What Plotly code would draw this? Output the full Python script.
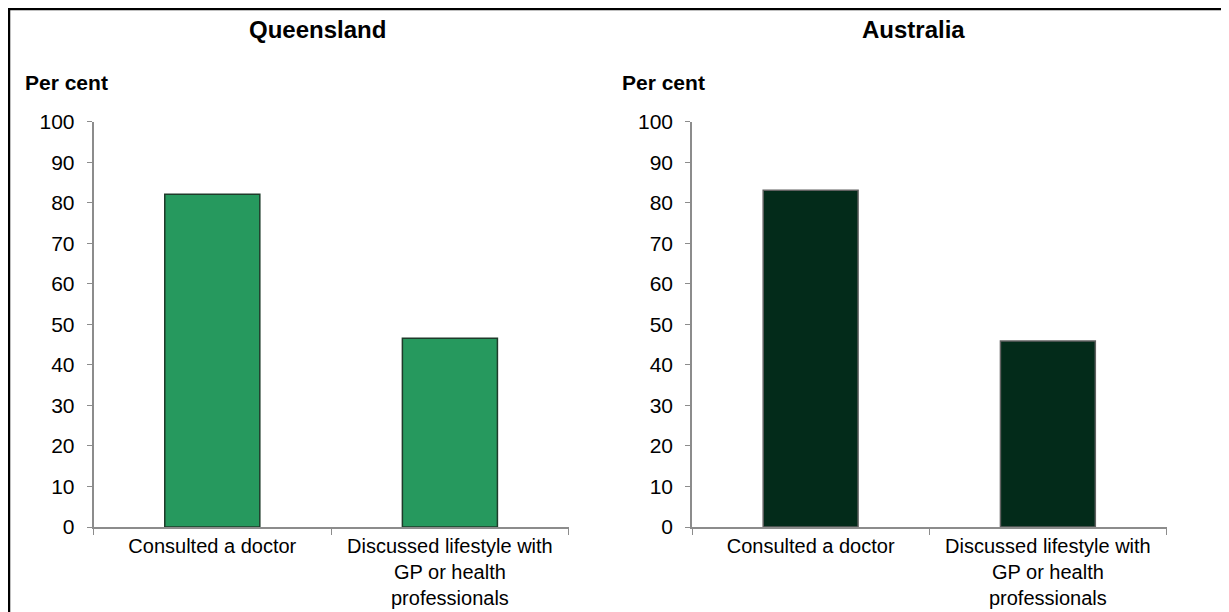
import plotly.graph_objects as go

# data
categories = ["Consulted a doctor", "Discussed lifestyle with<br>GP or health<br>professionals"]
queensland = [82.1, 46.6]
australia = [83.1, 45.9]
panel_titles = ["Queensland", "Australia"]

W, H = 1229, 612
OFF = 8  # page body margin in front of the figure
FONT = "Liberation Sans, Arial, sans-serif"


def fx(px):
    return (px - OFF) / W


def fy(py):
    return 1 - (py - OFF) / H


fig = go.Figure()
fig.add_trace(go.Bar(x=categories, y=queensland, width=0.4,
                     marker=dict(color="#26995E", line=dict(color="#1E3B2A", width=1.5)),
                     xaxis="x", yaxis="y", showlegend=False))
fig.add_trace(go.Bar(x=categories, y=australia, width=0.4,
                     marker=dict(color="#032B1A", line=dict(color="#606060", width=1.5)),
                     xaxis="x2", yaxis="y2", showlegend=False))

xstyle = dict(type="category", tickson="boundaries", ticks="outside", ticklen=6,
              tickcolor="#8c8c8c", showline=True, linecolor="#8c8c8c", linewidth=1.5,
              showgrid=False, automargin=False, ticklabelstandoff=0,
              tickfont=dict(family=FONT, size=20, color="black"), fixedrange=True)
ystyle = dict(range=[0, 100], dtick=10, ticks="outside", ticklen=5, tickcolor="#8c8c8c",
              showline=True, linecolor="#8c8c8c", linewidth=1.5, showgrid=False,
              zeroline=False, automargin=False, ticklabelstandoff=8,
              tickfont=dict(family=FONT, size=21, color="black"),
              domain=[fy(527), fy(121.7)], fixedrange=True)

fig.update_layout(
    width=W, height=H,
    margin=dict(l=0, r=0, t=0, b=0, autoexpand=False),
    paper_bgcolor="white", plot_bgcolor="white",
    xaxis=dict(xstyle, domain=[fx(93.5), fx(568.7)], anchor="y"),
    yaxis=dict(ystyle, anchor="x"),
    xaxis2=dict(xstyle, domain=[fx(692), fx(1166.5)], anchor="y2"),
    yaxis2=dict(ystyle, anchor="x2"),
)

# panel titles and axis captions
for name, cx, px in [(panel_titles[0], 317.5, 23), (panel_titles[1], 913, 620)]:
    fig.add_annotation(text="<b>" + name + "</b>", x=fx(cx), y=fy(30), xref="paper", yref="paper",
                       showarrow=False, xanchor="center", yanchor="middle",
                       font=dict(family=FONT, size=24, color="black"))
    fig.add_annotation(text="<b>Per cent</b>", x=fx(px), y=fy(82), xref="paper", yref="paper",
                       showarrow=False, xanchor="left", yanchor="middle",
                       font=dict(family=FONT, size=21, color="black"))

# outer frame (only top and left edges fall inside the picture)
fig.add_shape(type="rect", xref="paper", yref="paper",
              x0=0, x1=1.05, y0=-0.05, y1=1,
              line=dict(color="black", width=4.5))

fig.write_html("out.html")
